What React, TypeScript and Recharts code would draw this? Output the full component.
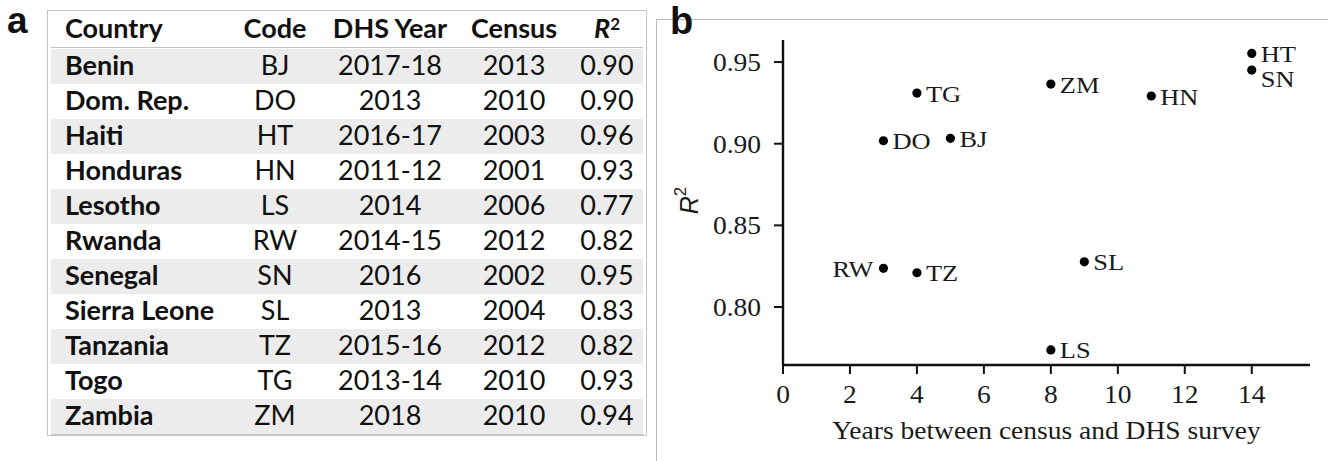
import React from 'react';
import { ScatterChart, Scatter, XAxis, YAxis } from 'recharts';

// table (panel a)
const countries = ['Benin', 'Dom. Rep.', 'Haiti', 'Honduras', 'Lesotho', 'Rwanda', 'Senegal', 'Sierra Leone', 'Tanzania', 'Togo', 'Zambia'];
const codes = ['BJ', 'DO', 'HT', 'HN', 'LS', 'RW', 'SN', 'SL', 'TZ', 'TG', 'ZM'];
const dhsYears = ['2017-18', '2013', '2016-17', '2011-12', '2014', '2014-15', '2016', '2013', '2015-16', '2013-14', '2018'];
const censusYears = ['2013', '2010', '2003', '2001', '2006', '2012', '2002', '2004', '2012', '2010', '2010'];
const r2Rounded = ['0.90', '0.90', '0.96', '0.93', '0.77', '0.82', '0.95', '0.83', '0.82', '0.93', '0.94'];

// scatter (panel b)
const gapYears = [5, 3, 14, 11, 8, 3, 14, 9, 4, 4, 8];
const r2Values = [0.9033, 0.9018, 0.9553, 0.9292, 0.7737, 0.8237, 0.9451, 0.8277, 0.821, 0.931, 0.9365];
const xTicks = [0, 2, 4, 6, 8, 10, 12, 14];
const yTicks = [0.8, 0.85, 0.9, 0.95];

const points = codes.map((code, i) => ({ code, gap: gapYears[i], r2: r2Values[i] }));

const SERIF = '"Liberation Serif", "DejaVu Serif", serif';
const SANS = '"Liberation Sans", Arial, sans-serif';
const TABLE_FONT = 'Lato, "Open Sans", sans-serif';
const INK = '#1a1a1a';
const STRETCH = 1.1; // the original figure's type is a little wide

// label placement tweaks
const leftLabels = ['RW'];
const labelDy: Record<string, number> = { SN: 8 };

const PointMark = (props: any) => {
  const { cx, cy, payload } = props;
  const left = leftLabels.includes(payload.code);
  const dy = labelDy[payload.code] || 0;
  const tx = left ? cx - 10 : cx + 9;
  const ty = cy + 8.5 + dy;
  return (
    <g>
      <circle cx={cx} cy={cy} r={4.6} fill="#000" />
      <text
        transform={`translate(${tx},${ty}) scale(${STRETCH},1)`}
        textAnchor={left ? 'end' : 'start'}
        fontFamily={SERIF}
        fontSize={24}
        fill={INK}
      >
        {payload.code}
      </text>
    </g>
  );
};

const XTick = (props: any) => {
  const { x, y, payload } = props;
  return (
    <text transform={`translate(${x},${y}) scale(${STRETCH},1)`} textAnchor="middle" dy="0.71em" fontFamily={SERIF} fontSize={25} fill={INK}>
      {payload.value}
    </text>
  );
};

const YTick = (props: any) => {
  const { x, y, payload } = props;
  return (
    <text transform={`translate(${x},${y}) scale(${STRETCH},1)`} textAnchor="end" dy="0.355em" fontFamily={SERIF} fontSize={25} fill={INK}>
      {Number(payload.value).toFixed(2)}
    </text>
  );
};

const YLabel = (props: any) => {
  const vb = props.viewBox || { x: 0, y: 40, width: 123, height: 325 };
  const x = vb.x + 29;
  const y = vb.y + vb.height / 2 - 2;
  return (
    <text transform={`rotate(-90 ${x} ${y})`} x={x} y={y} textAnchor="middle" dominantBaseline="central" fontFamily={SANS} fontSize={25} fill={INK}>
      <tspan fontStyle="italic">R</tspan>
      <tspan dy={-9} fontSize={17}>2</tspan>
    </text>
  );
};

const XLabel = (props: any) => {
  const vb = props.viewBox || { x: 123, y: 365, width: 527, height: 96 };
  const cx = vb.x + vb.width / 2;
  return (
    <text transform={`translate(${cx},${vb.y + 74}) scale(${STRETCH},1)`} textAnchor="middle" fontFamily={SERIF} fontSize={25} fill={INK}>
      Years between census and DHS survey
    </text>
  );
};

function DataTable() {
  const ROW = 35;
  const cols = [
    { get: (i: number) => codes[i], c: 224 },
    { get: (i: number) => dhsYears[i], c: 339 },
    { get: (i: number) => censusYears[i], c: 463 },
    { get: (i: number) => r2Rounded[i], c: 556 },
  ];
  const cell = (c: number): React.CSSProperties => ({ position: 'absolute', left: c, top: 0, transform: 'translateX(-50%)', whiteSpace: 'nowrap' });
  return (
    <div
      style={{
        position: 'absolute', left: 47, top: 10, width: 598, height: 424,
        border: '1.5px solid #c4c4c4', fontFamily: TABLE_FONT, color: '#111', fontSize: 27,
      }}
    >
      {/* header */}
      <div style={{ position: 'absolute', left: 3, right: 3, top: 0, height: 36, lineHeight: '34px', fontWeight: 700, borderBottom: '1.5px solid #c4c4c4' }}>
        <span style={{ position: 'absolute', left: 14 }}>Country</span>
        <span style={cell(224)}>Code</span>
        <span style={cell(339)}>DHS Year</span>
        <span style={cell(463)}>Census</span>
        <span style={cell(556)}>
          <i>R</i><sup style={{ fontSize: 17, verticalAlign: 'top', lineHeight: '26px' }}>2</sup>
        </span>
      </div>
      {countries.map((name, i) => (
        <div
          key={name}
          style={{
            position: 'absolute', left: 3, right: 3, top: 37.5 + i * ROW, height: ROW, lineHeight: `${ROW - 4}px`,
            background: i % 2 === 0 ? '#ececec' : '#fff',
            borderBottom: i === countries.length - 1 ? '1.5px solid #c4c4c4' : 'none',
          }}
        >
          <span style={{ position: 'absolute', left: 14, fontWeight: 700 }}>{name}</span>
          {cols.map((col, j) => (
            <span key={j} style={cell(col.c)}>{col.get(i)}</span>
          ))}
        </div>
      ))}
    </div>
  );
}

export default function App() {
  return (
    <div style={{ position: 'absolute', left: 0, top: 0, width: 1328, height: 461, background: '#fff', overflow: 'hidden' }}>
      {/* panel letters and frame lines */}
      <div style={{ position: 'absolute', left: 7, top: 2, fontFamily: SANS, fontWeight: 700, fontSize: 37, lineHeight: '37px', color: '#111' }}>a</div>
      <div style={{ position: 'absolute', left: 657, top: 19, width: 671, height: 1, background: '#b8b8b8' }} />
      <div style={{ position: 'absolute', left: 656, top: 19, width: 1, height: 442, background: '#b8b8b8' }} />
      <div style={{ position: 'absolute', left: 670, top: 2, fontFamily: SANS, fontWeight: 700, fontSize: 38, lineHeight: '38px', color: '#111' }}>b</div>

      <DataTable />

      <div style={{ position: 'absolute', left: 660, top: 0 }}>
        <ScatterChart width={668} height={461} margin={{ top: 40, right: 18, left: 0, bottom: 0 }}>
          <XAxis
            type="number"
            dataKey="gap"
            domain={[0, 15.74]}
            ticks={xTicks}
            allowDataOverflow
            height={96}
            tick={XTick}
            tickSize={9}
            tickMargin={11}
            axisLine={{ stroke: '#111', strokeWidth: 2.4 }}
            tickLine={{ stroke: '#111', strokeWidth: 2 }}
            label={{ content: XLabel }}
          />
          <YAxis
            type="number"
            dataKey="r2"
            domain={[0.7645, 0.9635]}
            ticks={yTicks}
            allowDataOverflow
            width={123}
            tick={YTick}
            tickSize={9}
            tickMargin={13}
            axisLine={{ stroke: '#111', strokeWidth: 2.4 }}
            tickLine={{ stroke: '#111', strokeWidth: 2 }}
            label={{ content: YLabel }}
          />
          <Scatter data={points} shape={PointMark} isAnimationActive={false} />
        </ScatterChart>
      </div>
    </div>
  );
}
